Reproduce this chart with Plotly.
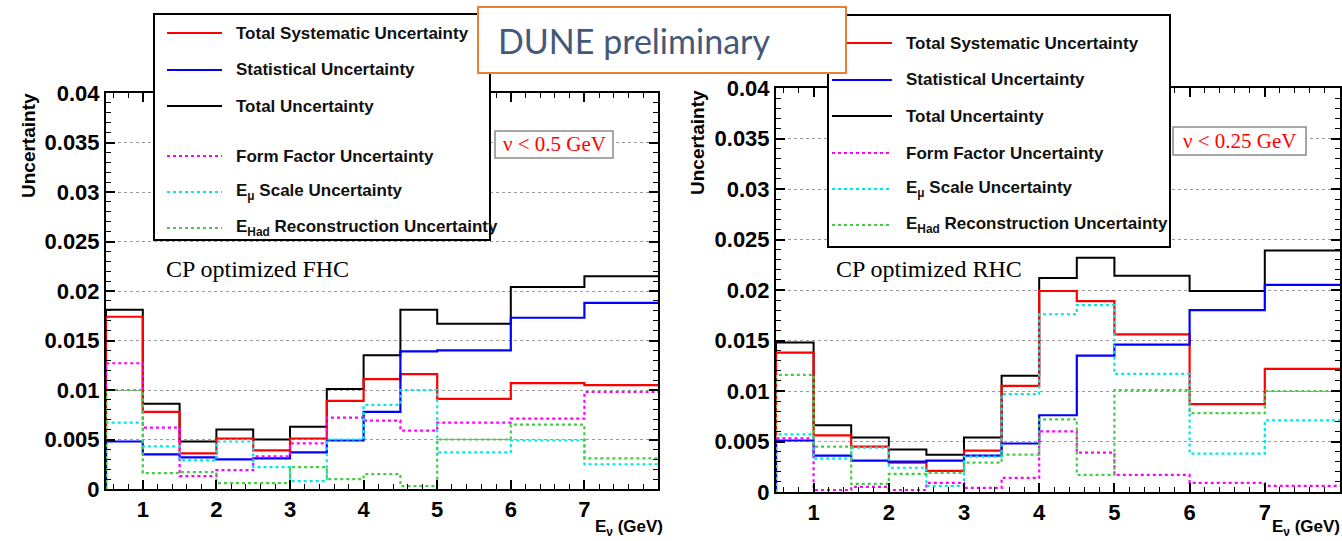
import plotly.graph_objects as go

W, H = 1342, 541

# ---------------- data ----------------
bin_edges = [0.5, 1.0, 1.5, 2.0, 2.5, 3.0, 3.5, 4.0, 4.5, 5.0, 6.0, 7.0, 8.0]

# FHC (left panel, nu < 0.5 GeV)
fhc_total = [0.0181, 0.0086, 0.0048, 0.0060, 0.0050, 0.0063, 0.0101, 0.0135, 0.0181, 0.0167, 0.0204, 0.0215]
fhc_syst = [0.0174, 0.0078, 0.0036, 0.0051, 0.0039, 0.0051, 0.0089, 0.0111, 0.0116, 0.0091, 0.0107, 0.0105]
fhc_stat = [0.0048, 0.0035, 0.0032, 0.0030, 0.0031, 0.0037, 0.0049, 0.0078, 0.0139, 0.0140, 0.0173, 0.0188]
fhc_formfactor = [0.0127, 0.0062, 0.0013, 0.0019, 0.0033, 0.0046, 0.0072, 0.0069, 0.0059, 0.0067, 0.0071, 0.0098]
fhc_emu = [0.0067, 0.0043, 0.0029, 0.0048, 0.0022, 0.0008, 0.0050, 0.0085, 0.0100, 0.0037, 0.0049, 0.0025]
fhc_ehad = [0.0100, 0.0016, 0.0017, 0.0006, 0.0006, 0.0022, 0.0010, 0.0015, 0.0003, 0.0050, 0.0065, 0.0031]

# RHC (right panel, nu < 0.25 GeV)
rhc_total = [0.0148, 0.0066, 0.0054, 0.0042, 0.0037, 0.0054, 0.0115, 0.0212, 0.0232, 0.0214, 0.0199, 0.0239]
rhc_syst = [0.0138, 0.0056, 0.0045, 0.0029, 0.0021, 0.0041, 0.0105, 0.0199, 0.0189, 0.0156, 0.0087, 0.0122]
rhc_stat = [0.0051, 0.0036, 0.0031, 0.0030, 0.0031, 0.0036, 0.0048, 0.0076, 0.0135, 0.0146, 0.0180, 0.0205]
rhc_formfactor = [0.0053, 0.0002, 0.0005, 0.0002, 0.0009, 0.0004, 0.0014, 0.0060, 0.0039, 0.0017, 0.0009, 0.0006]
rhc_emu = [0.0057, 0.0033, 0.0044, 0.0024, 0.0006, 0.0035, 0.0097, 0.0176, 0.0185, 0.0117, 0.0038, 0.0071]
rhc_ehad = [0.0116, 0.0045, 0.0008, 0.0018, 0.0019, 0.0029, 0.0037, 0.0072, 0.0017, 0.0101, 0.0078, 0.0100]

series_names = [
    "Total Systematic Uncertainty",
    "Statistical Uncertainty",
    "Total Uncertainty",
    "Form Factor Uncertainty",
    "E<sub>μ</sub> Scale Uncertainty",
    "E<sub>Had</sub> Reconstruction Uncertainty",
]
panel_titles = ["CP optimized FHC", "CP optimized RHC"]
nu_cuts = ["ν < 0.5 GeV", "ν < 0.25 GeV"]
x_ticks = [1, 2, 3, 4, 5, 6, 7]
x_title = "E<sub>ν</sub> (GeV)"
y_title = "Uncertainty"
banner = "DUNE preliminary"

# ---------------- styles ----------------
styles = [
    dict(color="#FF0000", width=2.2, dash="solid"),
    dict(color="#0000FF", width=2.2, dash="solid"),
    dict(color="#000000", width=2.0, dash="solid"),
    dict(color="#FF00FF", width=2.2, dash="3px,3px"),
    dict(color="#00E8E8", width=2.2, dash="3px,3px"),
    dict(color="#44CC44", width=2.2, dash="3px,3px"),
]

panels = [
    [fhc_syst, fhc_stat, fhc_total, fhc_formfactor, fhc_emu, fhc_ehad],
    [rhc_syst, rhc_stat, rhc_total, rhc_formfactor, rhc_emu, rhc_ehad],
]
draw_order = [2, 0, 1, 3, 4, 5]


def step_xy(edges, vals):
    xs = [edges[0]] + list(edges)
    ys = [0.0] + list(vals) + [vals[-1]]
    return xs, ys


def px(x):
    return x / W


def py(y):
    return 1 - y / H


fig = go.Figure()
for p, data in enumerate(panels):
    xa = "x" if p == 0 else "x2"
    ya = "y" if p == 0 else "y2"
    for i in draw_order:
        xs, ys = step_xy(bin_edges, data[i])
        fig.add_trace(go.Scatter(
            x=xs, y=ys, mode="lines", line_shape="hv",
            line=styles[i], name=series_names[i], showlegend=False,
            xaxis=xa, yaxis=ya, hoverinfo="skip", cliponaxis=True,
        ))

tickfont = dict(family="Liberation Sans, Arial, sans-serif", size=22, color="black", weight="bold")
xcommon = dict(
    range=[0.5, 8], tickmode="array", tickvals=x_ticks, ticktext=[str(t) for t in x_ticks],
    ticks="inside", ticklen=9, tickwidth=1.5, tickcolor="black",
    minor=dict(dtick=0.2, tick0=0, ticks="inside", ticklen=5, tickwidth=1.2, tickcolor="black", showgrid=False),
    showline=True, linecolor="black", linewidth=2, mirror="allticks",
    showgrid=False, zeroline=False, tickfont=tickfont, fixedrange=True, automargin=False,
)
ycommon = dict(
    range=[0, 0.04], tickmode="linear", tick0=0, dtick=0.005,
    ticks="inside", ticklen=9, tickwidth=1.5, tickcolor="black",
    minor=dict(dtick=0.001, tick0=0, ticks="inside", ticklen=5, tickwidth=1.2, tickcolor="black", showgrid=False),
    showline=True, linecolor="black", linewidth=2, mirror="allticks",
    showgrid=True, gridcolor="#9a9a9a", griddash="dot", gridwidth=1,
    zeroline=False, tickfont=tickfont, fixedrange=True, automargin=False,
)

fig.update_layout(
    width=W, height=H, autosize=False,
    margin=dict(l=0, r=0, t=0, b=0, autoexpand=False),
    paper_bgcolor="white", plot_bgcolor="white",
    xaxis=dict(domain=[px(106), px(658)], anchor="y", **xcommon),
    yaxis=dict(domain=[py(489), py(93)], anchor="x", **ycommon),
    xaxis2=dict(domain=[px(776), px(1340)], anchor="y2", **xcommon),
    yaxis2=dict(domain=[py(492), py(88)], anchor="x2", **ycommon),
    showlegend=False,
)

shapes = []
annotations = []

# legend boxes (ROOT TLegend style)
legend_boxes = [(154, 14, 490, 240), (828, 15, 1170, 247)]
legend_rows = [[33, 70, 106, 156, 192, 228], [43, 80, 116, 153, 189, 225]]
legend_sample_x = [(167, 222), (832, 892)]
legend_text_x = [234, 904]
lfont = dict(family="Liberation Sans, Arial, sans-serif", size=17, color="#111111", weight="bold")
for b in range(2):
    x0, y0, x1, y1 = legend_boxes[b]
    shapes.append(dict(type="rect", xref="paper", yref="paper", x0=px(x0), x1=px(x1), y0=py(y1), y1=py(y0),
                       line=dict(color="black", width=2), fillcolor="white", layer="above"))
    sx0, sx1 = legend_sample_x[b]
    for i, ry in enumerate(legend_rows[b]):
        st = styles[i]
        shapes.append(dict(type="line", xref="paper", yref="paper", x0=px(sx0), x1=px(sx1), y0=py(ry), y1=py(ry),
                           line=dict(color=st["color"], width=2, dash=st["dash"]), layer="above"))
        annotations.append(dict(xref="paper", yref="paper", x=px(legend_text_x[b]), y=py(ry),
                                xanchor="left", yanchor="middle", text=series_names[i], showarrow=False,
                                font=lfont))

# nu cut boxes
nu_boxes = [(495, 131, 613, 158), (1173, 127, 1306, 155)]
for b in range(2):
    x0, y0, x1, y1 = nu_boxes[b]
    shapes.append(dict(type="rect", xref="paper", yref="paper", x0=px(x0), x1=px(x1), y0=py(y1), y1=py(y0),
                       line=dict(color="#8a8a8a", width=1.5), fillcolor="white", layer="above"))
    annotations.append(dict(xref="paper", yref="paper", x=px((x0 + x1) / 2), y=py((y0 + y1) / 2),
                            xanchor="center", yanchor="middle", text=nu_cuts[b], showarrow=False,
                            font=dict(family="Liberation Serif, Times New Roman, serif", size=21, color="#FF0000")))

# panel titles
for b, (tx, ty) in enumerate([(164, 269), (834, 269)]):
    annotations.append(dict(xref="paper", yref="paper", x=px(tx), y=py(ty), xanchor="left", yanchor="middle",
                            text=panel_titles[b], showarrow=False,
                            font=dict(family="Liberation Serif, Times New Roman, serif", size=24, color="black")))

# axis titles
for b, xx in enumerate([664, 1341]):
    annotations.append(dict(xref="paper", yref="paper", x=px(xx), y=py(540), xanchor="right", yanchor="bottom",
                            text=x_title, showarrow=False, borderpad=0,
                            font=dict(family="Liberation Sans, Arial, sans-serif", size=17, color="black", weight="bold")))
for b, (yx, yy) in enumerate([(28, 146), (697, 143)]):
    annotations.append(dict(xref="paper", yref="paper", x=px(yx), y=py(yy), xanchor="center", yanchor="middle",
                            text=y_title, textangle=-90, showarrow=False,
                            font=dict(family="Liberation Sans, Arial, sans-serif", size=19, color="black", weight="bold")))

# DUNE preliminary banner
shapes.append(dict(type="rect", xref="paper", yref="paper", x0=px(478), x1=px(846), y0=py(73), y1=py(7),
                   line=dict(color="#ED7D31", width=2), fillcolor="white", layer="above"))
annotations.append(dict(xref="paper", yref="paper", x=px(496), y=py(41), xanchor="left", yanchor="middle",
                        text=banner, showarrow=False,
                        font=dict(family="Lato, Open Sans, sans-serif", size=34, color="#44597A")))

fig.update_layout(shapes=shapes, annotations=annotations)
fig.write_html(
    "out.html",
    config={"displayModeBar": False},
    post_script="document.body.style.margin='0';document.body.style.overflow='hidden';",
)
